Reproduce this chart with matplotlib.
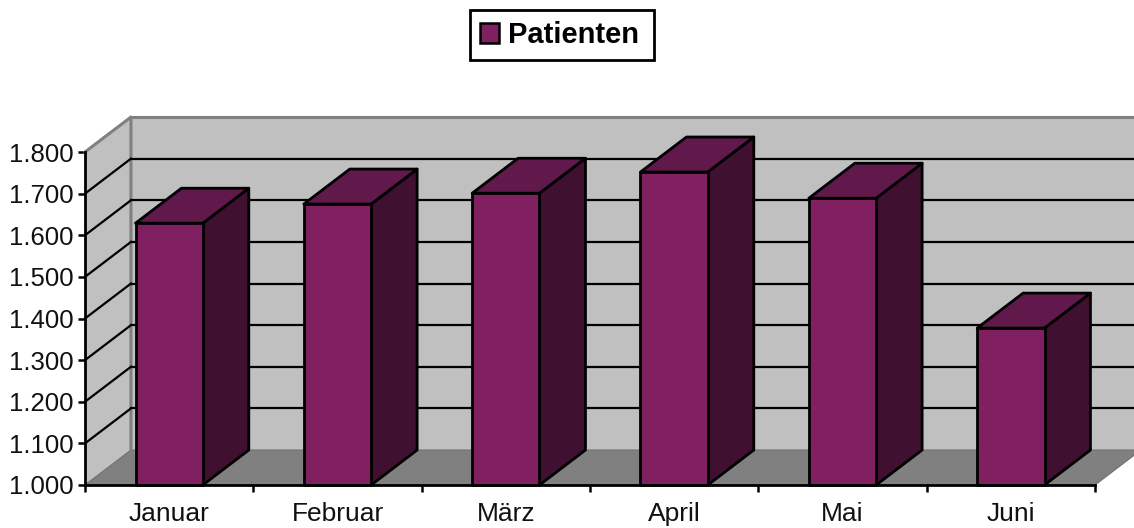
#!/usr/bin/env python3
"""Patienten pro Monat - 3D-Säulen im alten Excel-Stil"""

import matplotlib
matplotlib.use("Agg")
import matplotlib.pyplot as plt
from matplotlib.patches import Patch, Polygon, Rectangle

plt.rcParams["font.family"] = ["Liberation Sans", "DejaVu Sans"]

MONTHS = ["Januar", "Februar", "März", "April", "Mai", "Juni"]
PATIENTS = [1629, 1675, 1701, 1752, 1689, 1377]
Y_TICKS = [1000, 1100, 1200, 1300, 1400, 1500, 1600, 1700, 1800]
Y_LABELS = ["1.000", "1.100", "1.200", "1.300", "1.400", "1.500", "1.600", "1.700", "1.800"]

# Tiefe der 3D-Projektion, in Achseneinheiten
DX = 0.273
DY = 84
BAR_W = 0.4

WALL = "#C0C0C0"
FLOOR = "#808080"
FRONT = "#802060"
TOP = "#60194A"
SIDE = "#401030"


def poly(ax, pts, color, edge="black", lw=2.0, z=1):
    ax.add_patch(Polygon(pts, closed=True, facecolor=color, edgecolor=edge, linewidth=lw,
                         joinstyle="round", clip_on=False, zorder=z))


def draw_box(ax, i, value):
    x0 = i + 0.5 - BAR_W / 2
    x1 = x0 + BAR_W
    base = Y_TICKS[0]
    poly(ax, [(x1, base), (x1 + DX, base + DY), (x1 + DX, value + DY), (x1, value)], SIDE, z=5 + i)
    poly(ax, [(x0, value), (x1, value), (x1 + DX, value + DY), (x0 + DX, value + DY)], TOP, z=5 + i)
    poly(ax, [(x0, base), (x1, base), (x1, value), (x0, value)], FRONT, z=5 + i)


def main():
    fig = plt.figure(figsize=(11.34, 5.28), dpi=100, facecolor="white")
    ax = fig.add_axes([85 / 1134, 1 - 485 / 528, 1010 / 1134, 333 / 528])
    n = len(MONTHS)
    ymin, ymax = Y_TICKS[0], Y_TICKS[-1]
    ax.set_xlim(0, n)
    ax.set_ylim(ymin, ymax)
    ax.patch.set_visible(False)

    # Wände und Boden
    poly(ax, [(0, ymin), (DX, ymin + DY), (DX, ymax + DY), (0, ymax)], WALL, edge="none", z=1)
    poly(ax, [(DX, ymin + DY), (n + DX, ymin + DY), (n + DX, ymax + DY), (DX, ymax + DY)], WALL, edge="none", z=1)
    poly(ax, [(0, ymin), (n, ymin), (n + DX, ymin + DY), (DX, ymin + DY)], FLOOR, edge="#6E6E6E", lw=0.8, z=2)
    ax.plot([0, DX, DX], [ymax, ymax + DY, ymin + DY], color=FLOOR, lw=2.2, clip_on=False, zorder=3)
    ax.plot([DX, n + DX], [ymax + DY, ymax + DY], color=FLOOR, lw=2.2, clip_on=False, zorder=3)

    # Gitterlinien
    for t in Y_TICKS[1:-1]:
        ax.plot([0, DX], [t, t + DY], color="black", lw=1.6, clip_on=False, zorder=3)
        ax.plot([DX, n + DX], [t + DY, t + DY], color="black", lw=1.6, clip_on=False, zorder=3)

    for i, v in enumerate(PATIENTS):
        draw_box(ax, i, v)

    ax.spines[["top", "right"]].set_visible(False)
    ax.spines[["left", "bottom"]].set_linewidth(2.0)
    ax.spines[["left", "bottom"]].set_zorder(20)
    ax.set_yticks(Y_TICKS)
    ax.set_yticklabels(Y_LABELS, fontsize=18.5, color="#111111")
    ax.tick_params(axis="y", length=5, width=1.8, pad=3.5)
    ax.set_xticks(range(n + 1))
    ax.set_xticklabels([])
    ax.tick_params(axis="x", which="major", length=5, width=1.8)
    ax.set_xticks([i + 0.5 for i in range(n)], minor=True)
    ax.set_xticklabels(MONTHS, minor=True, fontsize=19, color="#111111")
    ax.tick_params(axis="x", which="minor", length=0, pad=12)

    # Legendenrahmen separat, damit die Ränder stimmen
    fig.add_artist(Rectangle((470 / 1134, 1 - 60 / 528), 184 / 1134, 50 / 528,
                             transform=fig.transFigure, facecolor="white",
                             edgecolor="black", linewidth=2.0))
    handle = Patch(facecolor=FRONT, edgecolor="black", linewidth=1.8)
    fig.legend(handles=[handle], labels=["Patienten"], loc="center left",
               bbox_to_anchor=(480 / 1134, 1 - 35 / 528),
               prop={"weight": "bold", "size": 21}, frameon=False,
               handlelength=0.66, handleheight=0.66,
               handletextpad=0.31, borderpad=0, borderaxespad=0)

    fig.savefig("out.png", dpi=100, facecolor="white")
    plt.close(fig)


if __name__ == "__main__":
    main()
